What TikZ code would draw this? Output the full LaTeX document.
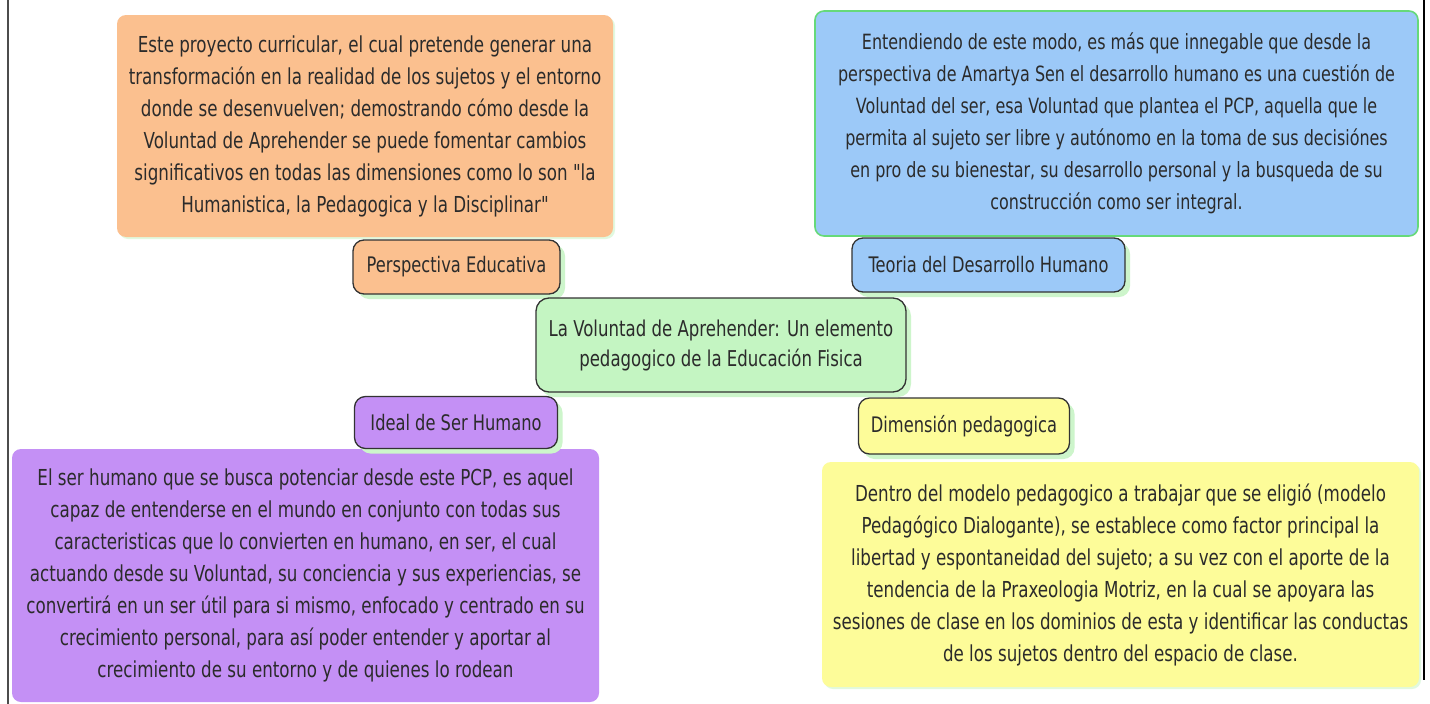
\documentclass[tikz,border=0pt]{standalone}
\usepackage{fontspec}
\newfontfamily\mapfont{DejaVu Sans}[FakeStretch=0.76]
\usetikzlibrary{shadows}
\definecolor{orangefill}{HTML}{FBC08F}
\definecolor{bluefill}{HTML}{9CC9F8}
\definecolor{purplefill}{HTML}{C490F5}
\definecolor{yellowfill}{HTML}{FDFC99}
\definecolor{greenfill}{HTML}{C4F5C2}
\definecolor{glow}{HTML}{CDF5CB}
\definecolor{bluerim}{HTML}{66D97A}
\definecolor{inktext}{HTML}{2B2B2B}
\tikzset{
  bigbox/.style={rounded corners=9pt, inner sep=0pt, align=center, text=inktext,
    font=\mapfont\fontsize{22}{32}\selectfont},
  topicbox/.style={rounded corners=11pt, draw=black!80, line width=1.3pt, inner sep=0pt,
    align=center, text=inktext, font=\mapfont\fontsize{21.4}{24}\selectfont,
    drop shadow={shadow xshift=5pt, shadow yshift=-5pt, fill=glow, opacity=1}},
  frameline/.style={line width=1.2pt, draw=black!70}
}
\begin{document}
\begin{tikzpicture}[x=1pt,y=-1pt]
\useasboundingbox (0,0) rectangle (1430,704);
\fill[white] (0,0) rectangle (1430,704);
\draw[frameline] (8,0) coordinate (lt) -- (8,704) coordinate (lb);
\draw[line width=2.4pt, black] (1424,0) coordinate (rt) -- (1424,680) coordinate (rb);

% large description boxes
\node[bigbox, fill=orangefill, minimum width=496pt, minimum height=222pt,
  drop shadow={shadow xshift=2pt, shadow yshift=-2pt, fill=glow, opacity=0.6}] (perspdesc) at (365,126)
 {Este proyecto curricular, el cual pretende generar una\\
  transformación en la realidad de los sujetos y el entorno\\
  donde se desenvuelven; demostrando cómo desde la\\
  Voluntad de Aprehender se puede fomentar cambios\\
  significativos en todas las dimensiones como lo son "la\\
  Humanistica, la Pedagogica y la Disciplinar"};

\node[bigbox, fill=bluefill, draw=bluerim, line width=1.6pt, minimum width=603pt, minimum height=225pt,
  font=\mapfont\fontsize{21}{32}\selectfont] (teodesc) at (1116.5,123.5)
 {Entendiendo de este modo, es más que innegable que desde la\\
  perspectiva de Amartya Sen el desarrollo humano es una cuestión de\\
  Voluntad del ser, esa Voluntad que plantea el PCP, aquella que le\\
  permita al sujeto ser libre y autónomo en la toma de sus decisiónes\\
  en pro de su bienestar, su desarrollo personal y la busqueda de su\\
  construcción como ser integral.};

\node[bigbox, fill=purplefill, minimum width=587pt, minimum height=253pt] (idealdesc) at (305.5,575.5)
 {El ser humano que se busca potenciar desde este PCP, es aquel\\
  capaz de entenderse en el mundo en conjunto con todas sus\\
  caracteristicas que lo convierten en humano, en ser, el cual\\
  actuando desde su Voluntad, su conciencia y sus experiencias, se\\
  convertirá en un ser útil para si mismo, enfocado y centrado en su\\
  crecimiento personal, para así poder entender y aportar al\\
  crecimiento de su entorno y de quienes lo rodean};

\node[bigbox, fill=yellowfill, minimum width=597pt, minimum height=225pt,
  drop shadow={shadow xshift=2pt, shadow yshift=-2pt, fill=glow, opacity=0.6}] (dimdesc) at (1120.5,574.5)
 {Dentro del modelo pedagogico a trabajar que se eligió (modelo\\
  Pedagógico Dialogante), se establece como factor principal la\\
  libertad y espontaneidad del sujeto; a su vez con el aporte de la\\
  tendencia de la Praxeologia Motriz, en la cual se apoyara las\\
  sesiones de clase en los dominios de esta y identificar las conductas\\
  de los sujetos dentro del espacio de clase.};

% topic boxes
\node[topicbox, fill=orangefill, minimum width=207pt, minimum height=54pt] (persp) at (456.5,267) {Perspectiva Educativa};
\node[topicbox, fill=bluefill, minimum width=273pt, minimum height=54pt] (teo) at (988.5,265) {Teoria del Desarrollo Humano};
\node[topicbox, fill=purplefill, minimum width=203pt, minimum height=52pt] (ideal) at (456,422.5) {Ideal de Ser Humano};
\node[topicbox, fill=yellowfill, minimum width=211pt, minimum height=56pt] (dim) at (964,426) {Dimensión pedagogica};

% central node
\node[topicbox, fill=greenfill, rounded corners=13pt, minimum width=370pt, minimum height=94pt,
  font=\mapfont\fontsize{21.8}{30}\selectfont] (center) at (721,345)
 {La Voluntad de Aprehender: Un elemento\\ pedagogico de la Educación Fisica};
\end{tikzpicture}
\end{document}
